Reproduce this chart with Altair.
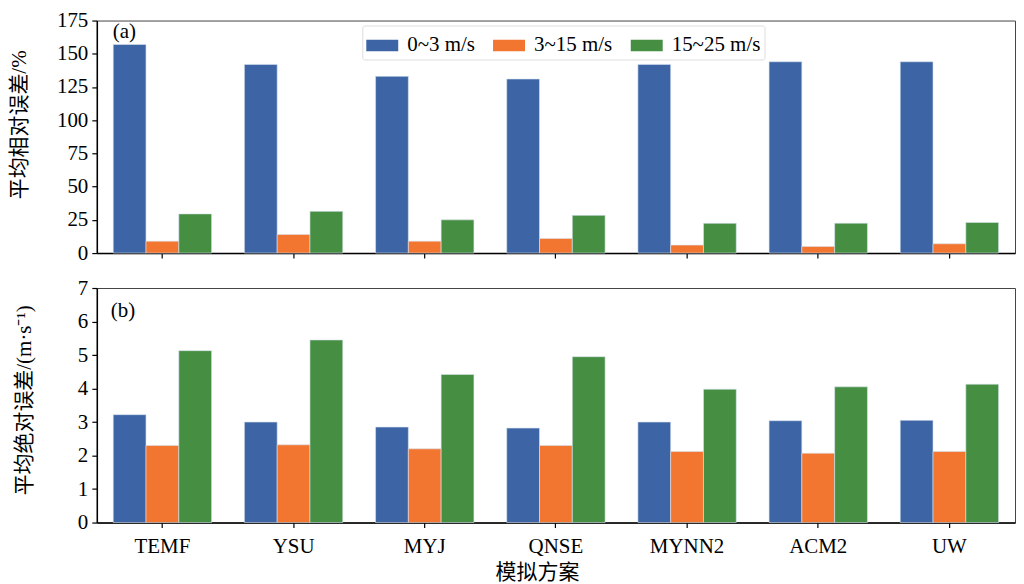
import altair as alt
import pandas as pd

schemes = ["TEMF", "YSU", "MYJ", "QNSE", "MYNN2", "ACM2", "UW"]
series = ["0~3 m/s", "3~15 m/s", "15~25 m/s"]
colors = ["#3d65a5", "#f27530", "#468e42"]

rel_low = [157, 142, 133, 131, 142, 144, 144]
rel_mid = [9, 14, 9, 11, 6, 5, 7]
rel_high = [29.5, 31.4, 25, 28.4, 22.4, 22.5, 23]

abs_low = [3.22, 3.0, 2.85, 2.82, 3.0, 3.04, 3.05]
abs_mid = [2.3, 2.32, 2.2, 2.3, 2.12, 2.07, 2.12]
abs_high = [5.13, 5.45, 4.42, 4.95, 3.98, 4.05, 4.13]

rel_ticks = [0, 25, 50, 75, 100, 125, 150, 175]
abs_ticks = [0, 1, 2, 3, 4, 5, 6, 7]


def long_df(low, mid, high):
    rows = []
    for vals, s in zip([low, mid, high], series):
        for sc, v in zip(schemes, vals):
            rows.append({"scheme": sc, "series": s, "value": v})
    return pd.DataFrame(rows)


df_rel = long_df(rel_low, rel_mid, rel_high)
df_abs = long_df(abs_low, abs_mid, abs_high)

FONT = "Liberation Serif, Noto Sans CJK SC"
W = 920

xscale = alt.Scale(paddingInner=0.25, paddingOuter=0.125)


def panel(df, ymax, ticks, ytitle, tx, ty, label, lx, ly, show_x, show_legend, h):
    if show_x:
        xaxis = alt.Axis(title="模拟方案", labelAngle=0, labelPadding=8,
                         titlePadding=5, titleX=441)
    else:
        xaxis = alt.Axis(title=None, labels=False)
    if show_legend:
        legend = alt.Legend(orient="none", legendX=266, legendY=5,
                            direction="horizontal", title=None)
    else:
        legend = None
    bars = alt.Chart(df).mark_bar(stroke="#d8e4f0", strokeWidth=0.6).encode(
        x=alt.X("scheme:N", sort=schemes, scale=xscale, axis=xaxis),
        xOffset=alt.XOffset("series:N", sort=series),
        y=alt.Y("value:Q", scale=alt.Scale(domain=[0, ymax], nice=False),
                axis=alt.Axis(values=ticks, title=ytitle, titleX=tx,
                              titleY=ty, titleBaseline="middle")),
        color=alt.Color("series:N", sort=series,
                        scale=alt.Scale(domain=series, range=colors),
                        legend=legend),
    )
    txt = alt.Chart(pd.DataFrame({"t": [label]})).mark_text(
        align="left", baseline="middle", fontSize=21, font=FONT, color="black"
    ).encode(text="t:N", x=alt.value(lx), y=alt.value(ly))
    return alt.layer(bars, txt).properties(width=W, height=h)


top = panel(df_rel, 175, rel_ticks, "平均相对误差/%", -77, 104,
            "(a)", 16, 11, False, True, 233)
bottom = panel(df_abs, 7, abs_ticks, "平均绝对误差/(m·s⁻¹)", -72, 112,
               "(b)", 14, 23, True, False, 235)

chart = alt.vconcat(top, bottom, spacing=12).resolve_scale(color="independent").properties(
    padding={"left": 0, "top": 0, "right": 0, "bottom": 0},
).configure_axis(
    labelFont=FONT, labelFontSize=21, labelColor="black", labelPadding=4,
    titleFont=FONT, titleFontSize=21, titleColor="black", titleFontWeight="normal",
    domainColor="black", domainWidth=1.5, tickColor="black", tickWidth=1.2,
    tickSize=5, grid=False,
).configure_axisX(labelPadding=8).configure_view(stroke="#444", strokeWidth=1).configure_legend(
    labelFont=FONT, labelFontSize=21, labelColor="black",
    symbolType="M-1,-0.36H1V0.36H-1Z", symbolSize=1024, symbolStrokeWidth=0,
    symbolOpacity=1, padding=4, strokeColor="#dddddd", fillColor="white",
    columnPadding=18, labelOffset=9, cornerRadius=2,
)

chart.save("out.html", embed_options={"renderer": "svg", "actions": False})
